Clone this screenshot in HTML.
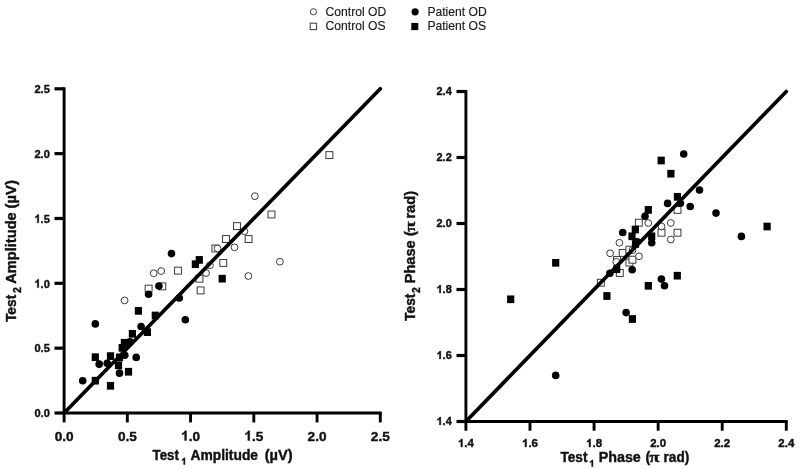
<!DOCTYPE html>
<html><head><meta charset="utf-8"><title>Test-retest scatter plots</title>
<style>
html,body{margin:0;padding:0;background:#fff;}
body{width:800px;height:469px;overflow:hidden;font-family:"Liberation Sans",sans-serif;}
svg{display:block;filter:blur(0.35px);}
text{font-family:"Liberation Sans",sans-serif;fill:#111;}
.b{font-weight:bold;stroke:#111;stroke-width:0.4px;}
.pi{font-family:"Liberation Serif",serif;}
.g{fill:#111;stroke:#111;stroke-width:0.4px;vector-effect:non-scaling-stroke;}
.h{stroke:#000;stroke-width:3.2;fill:none;}
.v{stroke:#000;stroke-width:2.9;fill:none;}
.ln{stroke:#000;stroke-width:3.7;fill:none;stroke-linecap:round;}
.o{fill:#fff;stroke:#3a3a3a;stroke-width:1;}
.f{fill:#000;stroke:none;}
.lg{font-size:12.15px;fill:#1a1a1a;stroke:#1a1a1a;stroke-width:0.15px;}
</style></head><body>
<svg width="800" height="469" viewBox="0 0 800 469">
<rect width="800" height="469" fill="#fff"/>
<!-- legend -->
<circle cx="313.4" cy="11.8" r="3.1" class="o"/>
<rect x="310.2" y="23.2" width="6.4" height="6.4" class="o"/>
<circle cx="415.1" cy="11.8" r="3.6" class="f"/>
<rect x="411.3" y="22.9" width="7" height="7.2" class="f"/>
<text x="325.6" y="15.8" class="lg">Control OD</text>
<text x="325.6" y="29.8" class="lg">Control OS</text>
<text x="427.4" y="15.8" class="lg">Patient OD</text>
<text x="427.4" y="29.8" class="lg">Patient OS</text>
<!-- left plot -->
<rect x="174.55" y="267.20" width="6.9" height="6.9" class="o"/>
<rect x="145.15" y="285.15" width="6.9" height="6.9" class="o"/>
<rect x="158.85" y="282.94" width="6.9" height="6.9" class="o"/>
<rect x="211.95" y="245.03" width="6.9" height="6.9" class="o"/>
<rect x="219.85" y="259.47" width="6.9" height="6.9" class="o"/>
<rect x="196.05" y="275.22" width="6.9" height="6.9" class="o"/>
<rect x="197.15" y="286.95" width="6.9" height="6.9" class="o"/>
<rect x="222.55" y="235.60" width="6.9" height="6.9" class="o"/>
<rect x="268.05" y="211.03" width="6.9" height="6.9" class="o"/>
<rect x="233.55" y="222.66" width="6.9" height="6.9" class="o"/>
<rect x="245.15" y="235.60" width="6.9" height="6.9" class="o"/>
<rect x="325.95" y="151.65" width="6.9" height="6.9" class="o"/>
<circle cx="124.6" cy="300.44" r="3.4" class="o"/>
<circle cx="153.7" cy="273.25" r="3.4" class="o"/>
<circle cx="161.2" cy="271.05" r="3.4" class="o"/>
<circle cx="217.5" cy="248.48" r="3.4" class="o"/>
<circle cx="234.5" cy="247.28" r="3.4" class="o"/>
<circle cx="209.9" cy="265.33" r="3.4" class="o"/>
<circle cx="206" cy="273.05" r="3.4" class="o"/>
<circle cx="254.9" cy="196.22" r="3.4" class="o"/>
<circle cx="244.4" cy="231.23" r="3.4" class="o"/>
<circle cx="279.9" cy="261.72" r="3.4" class="o"/>
<circle cx="248.4" cy="276.06" r="3.4" class="o"/>
<rect x="91.70" y="353.35" width="7.2" height="7.7" class="f"/>
<rect x="91.70" y="376.83" width="7.2" height="7.7" class="f"/>
<rect x="106.90" y="352.25" width="7.2" height="7.7" class="f"/>
<rect x="106.90" y="381.94" width="7.2" height="7.7" class="f"/>
<rect x="114.90" y="361.48" width="7.2" height="7.7" class="f"/>
<rect x="115.90" y="353.56" width="7.2" height="7.7" class="f"/>
<rect x="124.90" y="367.90" width="7.2" height="7.7" class="f"/>
<rect x="128.80" y="329.98" width="7.2" height="7.7" class="f"/>
<rect x="143.80" y="328.28" width="7.2" height="7.7" class="f"/>
<rect x="120.80" y="338.91" width="7.2" height="7.7" class="f"/>
<rect x="118.60" y="344.03" width="7.2" height="7.7" class="f"/>
<rect x="195.70" y="256.06" width="7.2" height="7.7" class="f"/>
<rect x="191.80" y="260.38" width="7.2" height="7.7" class="f"/>
<rect x="218.60" y="274.82" width="7.2" height="7.7" class="f"/>
<rect x="134.80" y="307.02" width="7.2" height="7.7" class="f"/>
<rect x="151.70" y="311.63" width="7.2" height="7.7" class="f"/>
<circle cx="95.3" cy="323.91" r="3.8" class="f"/>
<circle cx="82.7" cy="380.68" r="3.8" class="f"/>
<circle cx="99.2" cy="364.13" r="3.8" class="f"/>
<circle cx="107.2" cy="363.22" r="3.8" class="f"/>
<circle cx="119.5" cy="373.15" r="3.8" class="f"/>
<circle cx="136.2" cy="357.41" r="3.8" class="f"/>
<circle cx="124.8" cy="355.2" r="3.8" class="f"/>
<circle cx="141.1" cy="326.51" r="3.8" class="f"/>
<circle cx="129.9" cy="341.86" r="3.8" class="f"/>
<circle cx="171.5" cy="253.59" r="3.8" class="f"/>
<circle cx="158.9" cy="286.09" r="3.8" class="f"/>
<circle cx="148.6" cy="294.32" r="3.8" class="f"/>
<circle cx="179.3" cy="298.03" r="3.8" class="f"/>
<circle cx="185.3" cy="319.79" r="3.8" class="f"/>
<path d="M64.1 87.2 V413.0" class="v"/><path d="M62.64999999999999 413.0 H381.75" class="h"/>
<path d="M54.49999999999999 413.00 H64.1" class="h"/><text transform="translate(34.42 417.30) scale(1 1.035)" class="b" font-size="11.1">0.0</text>
<path d="M54.49999999999999 348.16 H64.1" class="h"/><text transform="translate(34.42 352.46) scale(1 1.035)" class="b" font-size="11.1">0.5</text>
<path d="M54.49999999999999 283.32 H64.1" class="h"/><path transform="translate(34.42 287.62) scale(0.00542 -0.00561)" d="M806 0H525V1059Q371 915 162 846V1101Q272 1137 401 1237.5T578 1472H806Z" class="g"/><text transform="translate(40.59 287.62) scale(1 1.035)" class="b" font-size="11.1">.0</text>
<path d="M54.49999999999999 218.48 H64.1" class="h"/><path transform="translate(34.42 222.78) scale(0.00542 -0.00561)" d="M806 0H525V1059Q371 915 162 846V1101Q272 1137 401 1237.5T578 1472H806Z" class="g"/><text transform="translate(40.59 222.78) scale(1 1.035)" class="b" font-size="11.1">.5</text>
<path d="M54.49999999999999 153.64 H64.1" class="h"/><text transform="translate(34.42 157.94) scale(1 1.035)" class="b" font-size="11.1">2.0</text>
<path d="M54.49999999999999 88.80 H64.1" class="h"/><text transform="translate(34.42 93.10) scale(1 1.035)" class="b" font-size="11.1">2.5</text>
<path d="M64.10 413.0 V422.4" class="v"/><text transform="translate(54.65 440.60) scale(1 1.0)" class="b" font-size="13.6">0.0</text>
<path d="M127.34 413.0 V422.4" class="v"/><text transform="translate(117.89 440.60) scale(1 1.0)" class="b" font-size="13.6">0.5</text>
<path d="M190.58 413.0 V422.4" class="v"/><path transform="translate(181.13 440.60) scale(0.00664 -0.00664)" d="M806 0H525V1059Q371 915 162 846V1101Q272 1137 401 1237.5T578 1472H806Z" class="g"/><text transform="translate(188.69 440.60) scale(1 1.0)" class="b" font-size="13.6">.0</text>
<path d="M253.82 413.0 V422.4" class="v"/><path transform="translate(244.37 440.60) scale(0.00664 -0.00664)" d="M806 0H525V1059Q371 915 162 846V1101Q272 1137 401 1237.5T578 1472H806Z" class="g"/><text transform="translate(251.93 440.60) scale(1 1.0)" class="b" font-size="13.6">.5</text>
<path d="M317.06 413.0 V422.4" class="v"/><text transform="translate(307.61 440.60) scale(1 1.0)" class="b" font-size="13.6">2.0</text>
<path d="M380.30 413.0 V422.4" class="v"/><text transform="translate(370.85 440.60) scale(1 1.0)" class="b" font-size="13.6">2.5</text>
<path d="M64.1 413.0 L380.3 88.8" class="ln"/>
<g transform="translate(0 459.8)"><text transform="translate(152.57 0) scale(0.937 1)" class="b" font-size="14.2">Test</text><path transform="translate(181.26 4.75) scale(0.00459 -0.00459)" d="M806 0H525V1059Q371 915 162 846V1101Q272 1137 401 1237.5T578 1472H806Z" class="g"/><text transform="translate(190.42 0) scale(0.975 1)" class="b" font-size="14.2">Amplitude</text><text transform="translate(264.72 0) scale(1.028 1)" class="b" font-size="14.2">(µV)</text></g>
<g transform="translate(15.9 0) rotate(-90)"><text transform="translate(-322.04 0) scale(0.972 1)" class="b" font-size="14.2">Test</text><text transform="translate(-293.02 4.7) scale(1.0 1)" class="b" font-size="10.6">2</text><text transform="translate(-283.69 0) scale(1.029 1)" class="b" font-size="14.2">Amplitude</text><text transform="translate(-208.49 0) scale(1.045 1)" class="b" font-size="14.2">(µV)</text></g>

<!-- right plot -->
<rect x="674.05" y="206.45" width="6.9" height="6.9" class="o"/>
<rect x="635.35" y="219.25" width="6.9" height="6.9" class="o"/>
<rect x="658.05" y="229.25" width="6.9" height="6.9" class="o"/>
<rect x="674.05" y="229.25" width="6.9" height="6.9" class="o"/>
<rect x="619.25" y="249.45" width="6.9" height="6.9" class="o"/>
<rect x="625.95" y="246.25" width="6.9" height="6.9" class="o"/>
<rect x="613.55" y="256.55" width="6.9" height="6.9" class="o"/>
<rect x="625.95" y="259.05" width="6.9" height="6.9" class="o"/>
<rect x="616.35" y="269.55" width="6.9" height="6.9" class="o"/>
<rect x="597.45" y="279.25" width="6.9" height="6.9" class="o"/>
<rect x="628.95" y="256.25" width="6.9" height="6.9" class="o"/>
<circle cx="648.2" cy="223" r="3.4" class="o"/>
<circle cx="670.8" cy="223" r="3.4" class="o"/>
<circle cx="661.5" cy="226.4" r="3.4" class="o"/>
<circle cx="670.8" cy="239.5" r="3.4" class="o"/>
<circle cx="619.4" cy="242.8" r="3.4" class="o"/>
<circle cx="610.1" cy="253.3" r="3.4" class="o"/>
<circle cx="639" cy="256.3" r="3.4" class="o"/>
<circle cx="616.3" cy="261.8" r="3.4" class="o"/>
<circle cx="632.5" cy="250.2" r="3.4" class="o"/>
<rect x="644.70" y="206.05" width="7.2" height="7.7" class="f"/>
<rect x="631.70" y="225.65" width="7.2" height="7.7" class="f"/>
<rect x="628.40" y="232.45" width="7.2" height="7.7" class="f"/>
<rect x="648.10" y="232.45" width="7.2" height="7.7" class="f"/>
<rect x="631.90" y="240.15" width="7.2" height="7.7" class="f"/>
<rect x="613.10" y="265.35" width="7.2" height="7.7" class="f"/>
<rect x="673.70" y="271.85" width="7.2" height="7.7" class="f"/>
<rect x="603.30" y="292.15" width="7.2" height="7.7" class="f"/>
<rect x="628.80" y="315.15" width="7.2" height="7.7" class="f"/>
<rect x="644.70" y="281.95" width="7.2" height="7.7" class="f"/>
<rect x="657.60" y="156.65" width="7.2" height="7.7" class="f"/>
<rect x="667.30" y="169.85" width="7.2" height="7.7" class="f"/>
<rect x="673.80" y="192.95" width="7.2" height="7.7" class="f"/>
<rect x="763.50" y="222.65" width="7.2" height="7.7" class="f"/>
<rect x="552.10" y="258.95" width="7.2" height="7.7" class="f"/>
<rect x="507.10" y="295.45" width="7.2" height="7.7" class="f"/>
<circle cx="667.6" cy="203.4" r="3.8" class="f"/>
<circle cx="680.4" cy="203.3" r="3.8" class="f"/>
<circle cx="690.2" cy="206.5" r="3.8" class="f"/>
<circle cx="645" cy="216.2" r="3.8" class="f"/>
<circle cx="622.7" cy="232.5" r="3.8" class="f"/>
<circle cx="651.7" cy="242.8" r="3.8" class="f"/>
<circle cx="637.1" cy="241.8" r="3.8" class="f"/>
<circle cx="632.2" cy="269.7" r="3.8" class="f"/>
<circle cx="609.9" cy="273.2" r="3.8" class="f"/>
<circle cx="661.4" cy="279.1" r="3.8" class="f"/>
<circle cx="664.5" cy="285.8" r="3.8" class="f"/>
<circle cx="626.1" cy="312.6" r="3.8" class="f"/>
<circle cx="683.7" cy="154" r="3.8" class="f"/>
<circle cx="699.5" cy="190" r="3.8" class="f"/>
<circle cx="716" cy="213.1" r="3.8" class="f"/>
<circle cx="741.4" cy="236.4" r="3.8" class="f"/>
<circle cx="555.7" cy="375.4" r="3.8" class="f"/>
<path d="M465.9 89.9 V421.5" class="v"/><path d="M464.45 421.5 H787.75" class="h"/>
<path d="M456.5 421.50 H465.9" class="h"/><path transform="translate(436.55 424.90) scale(0.00532 -0.00532)" d="M806 0H525V1059Q371 915 162 846V1101Q272 1137 401 1237.5T578 1472H806Z" class="g"/><text transform="translate(442.61 424.90) scale(1 1.0)" class="b" font-size="10.9">.4</text>
<path d="M456.5 355.50 H465.9" class="h"/><path transform="translate(436.55 358.90) scale(0.00532 -0.00532)" d="M806 0H525V1059Q371 915 162 846V1101Q272 1137 401 1237.5T578 1472H806Z" class="g"/><text transform="translate(442.61 358.90) scale(1 1.0)" class="b" font-size="10.9">.6</text>
<path d="M456.5 289.50 H465.9" class="h"/><path transform="translate(436.55 292.90) scale(0.00532 -0.00532)" d="M806 0H525V1059Q371 915 162 846V1101Q272 1137 401 1237.5T578 1472H806Z" class="g"/><text transform="translate(442.61 292.90) scale(1 1.0)" class="b" font-size="10.9">.8</text>
<path d="M456.5 223.50 H465.9" class="h"/><text transform="translate(436.55 226.90) scale(1 1.0)" class="b" font-size="10.9">2.0</text>
<path d="M456.5 157.50 H465.9" class="h"/><text transform="translate(436.55 160.90) scale(1 1.0)" class="b" font-size="10.9">2.2</text>
<path d="M456.5 91.50 H465.9" class="h"/><text transform="translate(436.55 94.90) scale(1 1.0)" class="b" font-size="10.9">2.4</text>
<path d="M465.90 421.5 V430.7" class="v"/><path transform="translate(457.91 447.00) scale(0.00562 -0.00550)" d="M806 0H525V1059Q371 915 162 846V1101Q272 1137 401 1237.5T578 1472H806Z" class="g"/><text transform="translate(464.30 447.00) scale(1 0.98)" class="b" font-size="11.5">.4</text>
<path d="M529.98 421.5 V430.7" class="v"/><path transform="translate(521.99 447.00) scale(0.00562 -0.00550)" d="M806 0H525V1059Q371 915 162 846V1101Q272 1137 401 1237.5T578 1472H806Z" class="g"/><text transform="translate(528.38 447.00) scale(1 0.98)" class="b" font-size="11.5">.6</text>
<path d="M594.06 421.5 V430.7" class="v"/><path transform="translate(586.07 447.00) scale(0.00562 -0.00550)" d="M806 0H525V1059Q371 915 162 846V1101Q272 1137 401 1237.5T578 1472H806Z" class="g"/><text transform="translate(592.46 447.00) scale(1 0.98)" class="b" font-size="11.5">.8</text>
<path d="M658.14 421.5 V430.7" class="v"/><text transform="translate(650.15 447.00) scale(1 0.98)" class="b" font-size="11.5">2.0</text>
<path d="M722.22 421.5 V430.7" class="v"/><text transform="translate(714.23 447.00) scale(1 0.98)" class="b" font-size="11.5">2.2</text>
<path d="M786.30 421.5 V430.7" class="v"/><text transform="translate(778.31 447.00) scale(1 0.98)" class="b" font-size="11.5">2.4</text>
<path d="M465.9 421.5 L786.3 91.5" class="ln"/>
<g transform="translate(0 461.9)"><text transform="translate(560.46 0) scale(0.961 1)" class="b" font-size="14.2">Test</text><path transform="translate(589.26 4.75) scale(0.00459 -0.00459)" d="M806 0H525V1059Q371 915 162 846V1101Q272 1137 401 1237.5T578 1472H806Z" class="g"/><text transform="translate(598.74 0) scale(1.005 1)" class="b" font-size="14.2">Phase</text><text transform="translate(645.43 0) scale(1.0 1)" class="b" font-size="14.2">(</text><text transform="translate(649.31 0) scale(1.2 1)" class="b pi" font-size="15.5">π</text><text transform="translate(663.58 0) scale(0.957 1)" class="b" font-size="14.2">rad)</text></g>
<g transform="translate(415.3 0) rotate(-90)"><text transform="translate(-320.94 0) scale(0.972 1)" class="b" font-size="14.2">Test</text><text transform="translate(-292.91 4.9) scale(1.0 1)" class="b" font-size="10.4">2</text><text transform="translate(-283.28 0) scale(1.029 1)" class="b" font-size="14.2">Phase</text><text transform="translate(-236.08 0) scale(1.029 1)" class="b" font-size="14.2">(</text><text transform="translate(-231.68 0) scale(1.19 1)" class="b pi" font-size="15.5">π</text><text transform="translate(-218.58 0) scale(1.029 1)" class="b" font-size="14.2">rad)</text></g>

</svg>
</body></html>
